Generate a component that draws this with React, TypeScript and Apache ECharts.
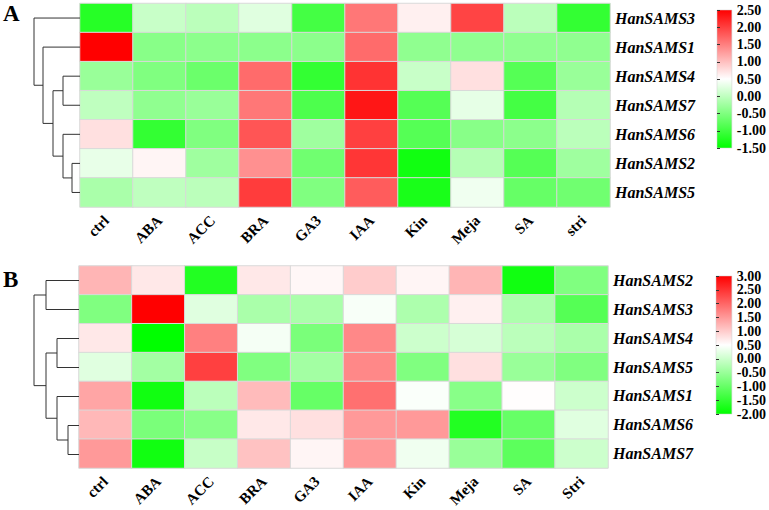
import React, { useEffect, useRef } from "react";
import * as echarts from "echarts";

const colsA = ["ctrl", "ABA", "ACC", "BRA", "GA3", "IAA", "Kin", "Meja", "SA", "stri"];
const colsB = ["ctrl", "ABA", "ACC", "BRA", "GA3", "IAA", "Kin", "Meja", "SA", "Stri"];
const rowsA = ["HanSAMS3", "HanSAMS1", "HanSAMS4", "HanSAMS7", "HanSAMS6", "HanSAMS2", "HanSAMS5"];
const rowsB = ["HanSAMS2", "HanSAMS3", "HanSAMS4", "HanSAMS5", "HanSAMS1", "HanSAMS6", "HanSAMS7"];

// Panel A values (row by row, columns as colsA)
const a_SAMS3 = [-1.2, 0.07, -0.03, 0.26, -0.97, 1.57, 0.62, 1.97, -0.03, -1.1];
const a_SAMS1 = [2.5, -0.43, -0.4, -0.4, -0.4, 1.66, -0.37, -0.37, -0.37, -0.37];
const a_SAMS4 = [-0.3, -0.5, -0.66, 1.66, -1.1, 2.1, 0.07, 0.74, -0.83, -0.3];
const a_SAMS7 = [0.0, -0.37, -0.3, 1.57, -0.9, 2.33, -0.83, 0.3, -0.97, -0.08];
const a_SAMS6 = [0.74, -1.1, -0.5, 1.83, -0.25, 2.0, -0.83, -0.43, -0.4, -0.03];
const a_SAMS2 = [0.32, 0.58, -0.25, 1.37, -0.62, 2.08, -1.37, -0.08, -0.83, -0.25];
const a_SAMS5 = [-0.17, 0.0, -0.03, 2.03, -0.5, 1.78, -1.3, 0.38, -0.7, -0.62];
const valuesA = [a_SAMS3, a_SAMS1, a_SAMS4, a_SAMS7, a_SAMS6, a_SAMS2, a_SAMS5];

// Panel B values
const b_SAMS2 = [1.23, 0.73, -1.67, 0.73, 0.58, 1.0, 0.6, 1.23, -1.83, -0.75];
const b_SAMS3 = [-0.75, 3.0, 0.2, -0.33, -0.33, 0.43, -0.3, 0.65, -0.3, -1.17];
const b_SAMS4 = [0.73, -2.0, 1.75, 0.4, -0.8, 1.67, 0.0, 0.1, -0.17, -0.33];
const b_SAMS5 = [0.2, -0.4, 2.37, -0.75, -0.4, 1.67, -0.75, 0.8, -0.5, -0.75];
const b_SAMS1 = [1.38, -1.83, -0.17, 1.17, -1.0, 1.9, 0.45, -0.67, 0.52, 0.0];
const b_SAMS6 = [1.2, -0.8, -0.67, 0.73, 0.8, 1.5, 1.5, -1.67, -1.0, 0.2];
const b_SAMS7 = [1.5, -1.83, -0.05, 1.1, 0.6, 1.5, 0.35, -0.5, -1.1, 0.0];
const valuesB = [b_SAMS2, b_SAMS3, b_SAMS4, b_SAMS5, b_SAMS1, b_SAMS6, b_SAMS7];

// Dendrogram merges: [child1, child2, height]; child >= 0 is row index, child < 0 is -(merge index + 1)
const mergesA = [[2, 3, 17], [5, 6, 8], [4, -2, 17], [-1, -3, 27], [1, -4, 37], [0, -5, 46]];
const mergesB = [[0, 1, 33], [2, 3, 22], [5, 6, 11], [4, -3, 22], [-2, -4, 33], [-1, -5, 45]];

const rangeA = [-1.5, 2.5];
const rangeB = [-2, 3];

const FONT = '"Times New Roman", "Liberation Serif", serif';

function heatData(vals: number[][]) {
  const out: number[][] = [];
  vals.forEach((row, r) => row.forEach((v, c) => out.push([c, r, v])));
  return out;
}

function dendroLinks(merges: number[][]) {
  const centers: number[] = [];
  const heights: number[] = [];
  const links: number[][] = [];
  merges.forEach((m) => {
    const get = (c: number) => (c >= 0 ? [c, 0] : [centers[-c - 1], heights[-c - 1]]);
    const [y1, h1] = get(m[0]);
    const [y2, h2] = get(m[1]);
    links.push([y1, y2, m[2], h1, h2]);
    centers.push((y1 + y2) / 2);
    heights.push(m[2]);
  });
  return links;
}

const gradient = () =>
  new echarts.graphic.LinearGradient(0, 0, 0, 1, [
    { offset: 0, color: "#ff0000" },
    { offset: 0.5, color: "#ffffff" },
    { offset: 1, color: "#00ff00" },
  ]);

export default function App() {
  const ref = useRef<HTMLDivElement>(null);
  useEffect(() => {
    if (!ref.current) return;
    const chart = echarts.init(ref.current, null, { renderer: "svg" });

    const heatX = (cols: string[], gi: number) => ({
      type: "category",
      gridIndex: gi,
      data: cols,
      axisLine: { show: false },
      axisTick: { show: false },
      splitLine: { show: false },
      axisLabel: {
        rotate: 45,
        margin: 11,
        interval: 0,
        fontFamily: FONT,
        fontWeight: "bold",
        fontSize: 15,
        color: "#000",
      },
    });
    const heatY = (rows: string[], gi: number) => ({
      type: "category",
      gridIndex: gi,
      data: rows,
      inverse: true,
      position: "right",
      axisLine: { show: false },
      axisTick: { show: false },
      splitLine: { show: false },
      axisLabel: {
        margin: 5,
        fontFamily: FONT,
        fontWeight: "bold",
        fontStyle: "italic",
        fontSize: 16,
        color: "#000",
      },
    });
    const dendX = (gi: number, max: number) => ({
      type: "value", gridIndex: gi, min: 0, max, inverse: true, show: false,
    });
    const dendY = (gi: number) => ({
      type: "value", gridIndex: gi, min: -0.5, max: 6.5, inverse: true, show: false,
    });
    const cbX = (gi: number) => ({ type: "value", gridIndex: gi, min: 0, max: 1, show: false });
    const cbY = (gi: number, range: number[]) => ({
      type: "value",
      gridIndex: gi,
      min: range[0],
      max: range[1],
      interval: 0.5,
      position: "right",
      axisLine: { show: false },
      axisTick: { show: true, length: 3, lineStyle: { color: "#333" } },
      splitLine: { show: false },
      axisLabel: {
        margin: 5,
        fontFamily: FONT,
        fontWeight: "bold",
        fontSize: 14,
        color: "#000",
        formatter: (v: number) => v.toFixed(2),
      },
    });

    const dendSeries = (merges: number[][], gi: number) => ({
      type: "custom",
      xAxisIndex: gi,
      yAxisIndex: gi,
      data: dendroLinks(merges),
      renderItem: (params: any, api: any) => {
        const y1 = api.value(0), y2 = api.value(1), h = api.value(2), h1 = api.value(3), h2 = api.value(4);
        const pts = [api.coord([h1, y1]), api.coord([h, y1]), api.coord([h, y2]), api.coord([h2, y2])];
        return {
          type: "polyline",
          shape: { points: pts },
          style: { stroke: "#333", lineWidth: 1, fill: null },
        };
      },
    });

    chart.setOption({
      animation: false,
      backgroundColor: "#fff",
      grid: [
        { left: 80, top: 3.5, width: 530, height: 203.5 },
        { left: 34, top: 3.5, width: 46, height: 203.5 },
        {
          left: 717, top: 10, width: 16, height: 138, show: true,
          backgroundColor: gradient(), borderWidth: 0.5, borderColor: "#ccc",
        },
        { left: 79, top: 266, width: 529, height: 203 },
        { left: 34, top: 266, width: 45, height: 203 },
        {
          left: 716, top: 276, width: 17, height: 138, show: true,
          backgroundColor: gradient(), borderWidth: 0.5, borderColor: "#ccc",
        },
      ],
      xAxis: [heatX(colsA, 0), dendX(1, 46), cbX(2), heatX(colsB, 3), dendX(4, 45), cbX(5)],
      yAxis: [heatY(rowsA, 0), dendY(1), cbY(2, rangeA), heatY(rowsB, 3), dendY(4), cbY(5, rangeB)],
      visualMap: [
        {
          type: "continuous", show: false, seriesIndex: 0, dimension: 2,
          min: rangeA[0], max: rangeA[1],
          inRange: { color: ["#00ff00", "#ffffff", "#ff0000"] },
        },
        {
          type: "continuous", show: false, seriesIndex: 2, dimension: 2,
          min: rangeB[0], max: rangeB[1],
          inRange: { color: ["#00ff00", "#ffffff", "#ff0000"] },
        },
      ],
      graphic: [
        { type: "text", left: 3, top: 2, style: { text: "A", font: `bold 23px ${FONT}`, fill: "#000" } },
        { type: "text", left: 3, top: 268, style: { text: "B", font: `bold 23px ${FONT}`, fill: "#000" } },
      ],
      series: [
        {
          type: "heatmap", xAxisIndex: 0, yAxisIndex: 0, data: heatData(valuesA),
          itemStyle: { borderColor: "#d9d9d9", borderWidth: 1 },
          emphasis: { disabled: true },
        },
        dendSeries(mergesA, 1),
        {
          type: "heatmap", xAxisIndex: 3, yAxisIndex: 3, data: heatData(valuesB),
          itemStyle: { borderColor: "#d9d9d9", borderWidth: 1 },
          emphasis: { disabled: true },
        },
        dendSeries(mergesB, 4),
      ],
    });

    return () => chart.dispose();
  }, []);
  return (
    <div
      ref={ref}
      style={{ position: "fixed", left: 0, top: 0, width: 769, height: 510, background: "#fff" }}
    />
  );
}
